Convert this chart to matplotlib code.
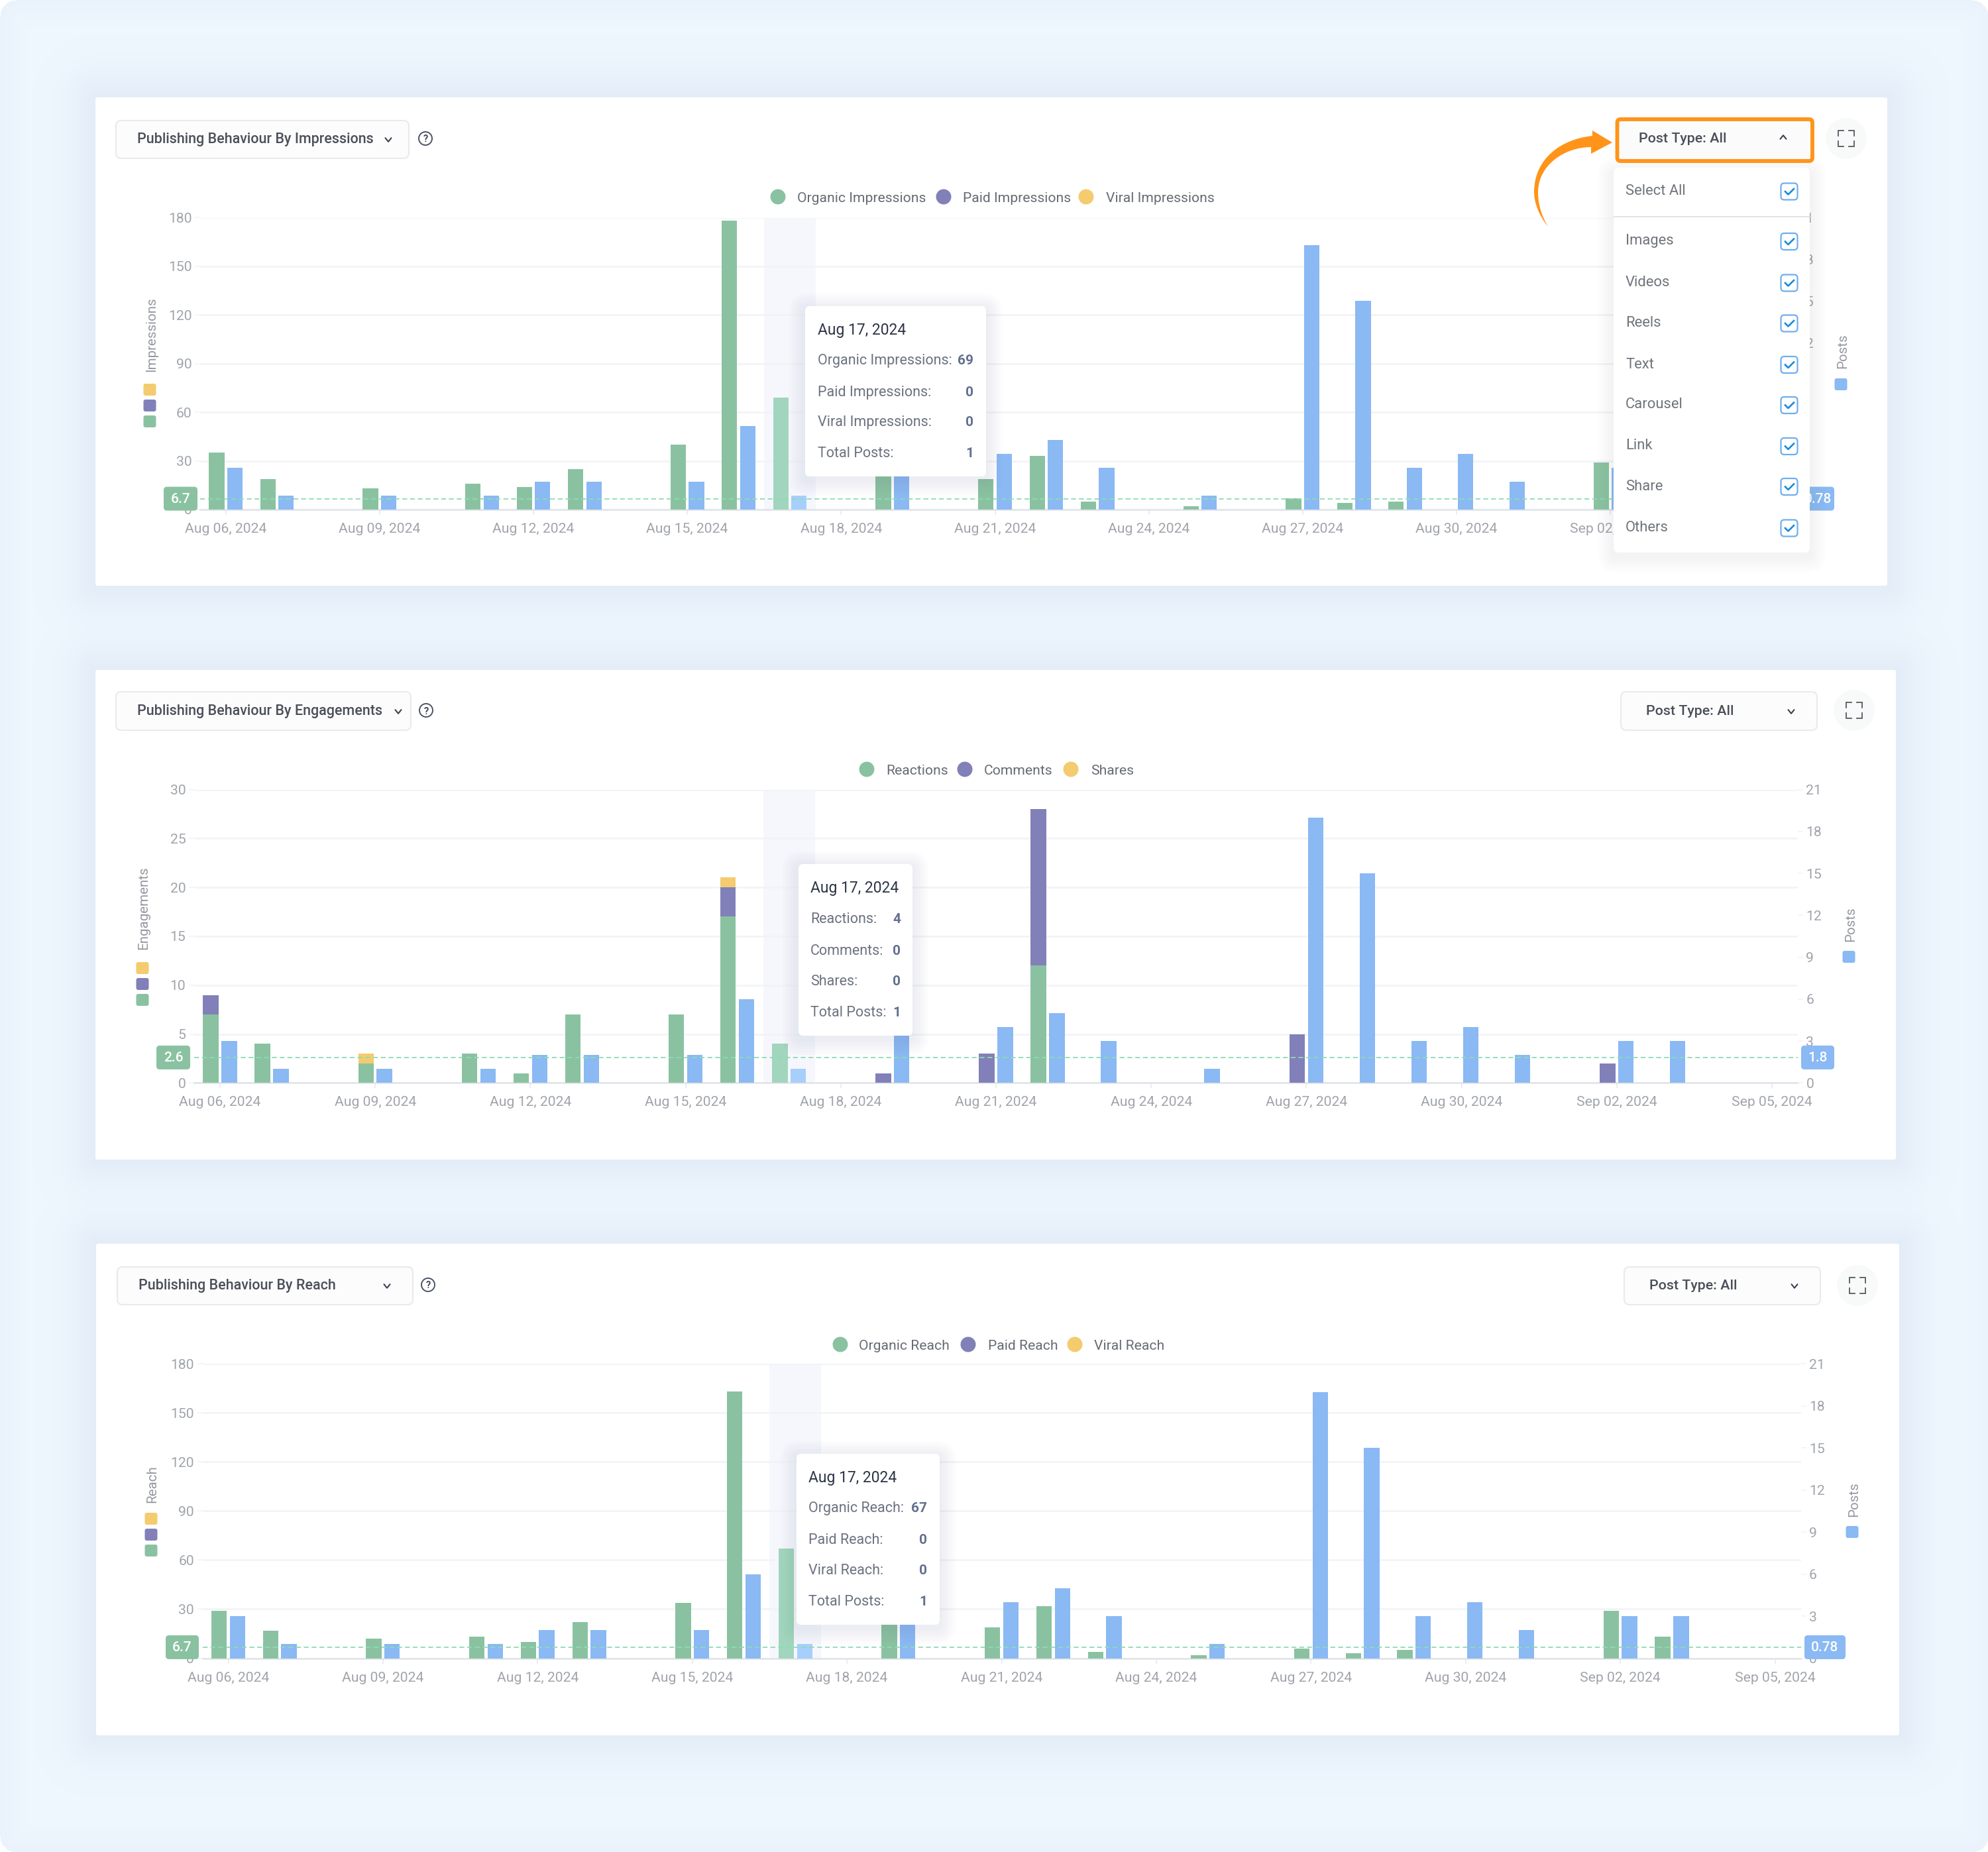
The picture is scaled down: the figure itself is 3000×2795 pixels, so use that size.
import matplotlib
matplotlib.use("Agg")
import matplotlib.pyplot as plt
from matplotlib.patches import FancyBboxPatch, PathPatch, Circle
from matplotlib.path import Path
import numpy as np

plt.rcParams['font.family'] = ['Roboto', 'DejaVu Sans']

W, H = 3000, 2795

# chart data
day_labels = ['Aug 06, 2024', 'Aug 09, 2024', 'Aug 12, 2024', 'Aug 15, 2024', 'Aug 18, 2024', 'Aug 21, 2024',
              'Aug 24, 2024', 'Aug 27, 2024', 'Aug 30, 2024', 'Sep 02, 2024', 'Sep 05, 2024']
posts = [3, 1, 0, 1, 0, 1, 2, 2, 0, 2, 6, 1, 0, 4, 0, 4, 5, 3, 0, 1, 0, 19, 15, 3, 4, 2, 0, 3, 3, 0, 0]
organic_impressions = [35, 19, 0, 13, 0, 16, 14, 25, 0, 40, 178, 69, 0, 22, 0, 19, 33, 5, 0, 2, 0, 7, 4, 5, 0, 0, 0, 29, 14, 0, 0]
reactions = [7, 4, 0, 2, 0, 3, 1, 7, 0, 7, 17, 4, 0, 0, 0, 0, 12, 0, 0, 0, 0, 0, 0, 0, 0, 0, 0, 0, 0, 0, 0]
comments = [2, 0, 0, 0, 0, 0, 0, 0, 0, 0, 3, 0, 0, 1, 0, 3, 16, 0, 0, 0, 0, 5, 0, 0, 0, 0, 0, 2, 0, 0, 0]
shares = [0, 0, 0, 1, 0, 0, 0, 0, 0, 0, 1, 0, 0, 0, 0, 0, 0, 0, 0, 0, 0, 0, 0, 0, 0, 0, 0, 0, 0, 0, 0]
organic_reach = [29, 17, 0, 12, 0, 13, 10, 22, 0, 34, 163, 67, 0, 22, 0, 19, 32, 4, 0, 2, 0, 6, 3, 5, 0, 0, 0, 29, 13, 0, 0]
zeros = [0] * 31
dropdown_items = ['Images', 'Videos', 'Reels', 'Text', 'Carousel', 'Link', 'Share', 'Others']

GREEN, PURPLE, YELLOW, BLUE = '#8AC2A1', '#8280B8', '#F4CB6E', '#8AB9F3'
LIGHT_GREEN, LIGHT_BLUE = '#A2D5BD', '#A6CFFB'
GRID = '#F1F3F6'
TICK_TXT = '#A0A4AB'
LABEL_TXT = '#666B74'
TXT_DY = 2.5  # Roboto sits a bit high with va=center

# everything measured in pixels of the reference for each card
panels = [
    dict(card=(144, 147, 2848, 884), plot=(302, 328.5, 2701, 769), title='Publishing Behaviour By Impressions',
         title_box=(175, 182, 617, 239), title_xy=(207, 208), chevron=(586, 211), help=(642, 209),
         post_box=(2441, 181, 2733, 241), post_xy=(2473, 207), post_chevron=(2691, 207), expand=(2786, 209),
         legend_y=297, legend=[(1174, 1203, 'Organic Impressions', GREEN), (1424, 1453, 'Paid Impressions', PURPLE), (1639, 1669, 'Viral Impressions', YELLOW)],
         ylabel='Impressions', ylabel_xy=(229, 505), swatch_x=226, swatch_y=[588, 612, 636],
         right_xy=(2781, 530), right_swatch=580, right_swatch_x=2778, ymax=180, yticks=[0, 30, 60, 90, 120, 150, 180],
         stack=[organic_impressions, zeros, zeros], avg_l='6.7', avg_val=6.7, avg_r='0.78', pill_l=(247, 298), pill_r=(2700, 2768),
         tip=(1215, 462, 1488, 719), tip_x=1234, tip_val_x=1469, tip_y=[496, 542, 590, 635, 682],
         tip_rows=[('Organic Impressions:', '69'), ('Paid Impressions:', '0'), ('Viral Impressions:', '0'), ('Total Posts:', '1')]),
    dict(card=(144, 1011, 2861, 1750), plot=(293, 1191.7, 2713, 1634.3), title='Publishing Behaviour By Engagements',
         title_box=(175, 1044, 620, 1102), title_xy=(207, 1071), chevron=(601, 1074), help=(643, 1072),
         post_box=(2446, 1044, 2742, 1102), post_xy=(2484, 1071), post_chevron=(2703, 1074), expand=(2798, 1072),
         legend_y=1161, legend=[(1308, 1337, 'Reactions', GREEN), (1456, 1485, 'Comments', PURPLE), (1616, 1646, 'Shares', YELLOW)],
         ylabel='Engagements', ylabel_xy=(217, 1370), swatch_x=215, swatch_y=[1461, 1485, 1509],
         right_xy=(2793, 1395), right_swatch=1444, right_swatch_x=2790, ymax=30, yticks=[0, 5, 10, 15, 20, 25, 30],
         stack=[reactions, comments, shares], avg_l='2.6', avg_val=2.6, avg_r='1.8', pill_l=(236, 287), pill_r=(2718, 2768),
         tip=(1205, 1304, 1377, 1563), tip_x=1223, tip_val_x=1359, tip_y=[1338, 1385, 1433, 1479, 1526],
         tip_rows=[('Reactions:', '4'), ('Comments:', '0'), ('Shares:', '0'), ('Total Posts:', '1')]),
    dict(card=(145, 1877, 2866, 2619), plot=(305.6, 2058.4, 2717.5, 2502.5), title='Publishing Behaviour By Reach',
         title_box=(177, 1912, 623, 1969), title_xy=(209, 1938), chevron=(584, 1941), help=(646, 1939),
         post_box=(2451, 1912, 2747, 1969), post_xy=(2489, 1938), post_chevron=(2708, 1941), expand=(2803, 1940),
         legend_y=2029, legend=[(1268, 1296, 'Organic Reach', GREEN), (1461, 1491, 'Paid Reach', PURPLE), (1622, 1651, 'Viral Reach', YELLOW)],
         ylabel='Reach', ylabel_xy=(230, 2240), swatch_x=228, swatch_y=[2292, 2316, 2340],
         right_xy=(2798, 2263), right_swatch=2312, right_swatch_x=2795, ymax=180, yticks=[0, 30, 60, 90, 120, 150, 180],
         stack=[organic_reach, zeros, zeros], avg_l='6.7', avg_val=6.7, avg_r='0.78', pill_l=(250, 300), pill_r=(2723, 2785),
         tip=(1202, 2194, 1418, 2452), tip_x=1220, tip_val_x=1399, tip_y=[2228, 2274, 2322, 2368, 2415],
         tip_rows=[('Organic Reach:', '67'), ('Paid Reach:', '0'), ('Viral Reach:', '0'), ('Total Posts:', '1')]),
]


def make_background():
    # page colour, soft card shadows and the rounded white outer corners
    yy, xx = np.mgrid[0:H, 0:W]
    shade = np.zeros((H, W))
    for cfg in panels:
        x0, y0, x1, y1 = cfg['card']
        dx = np.maximum(np.maximum(x0 - xx, xx - x1), 0)
        dy = np.maximum(np.maximum(y0 - yy, yy - y1), 0)
        d = np.hypot(dx, dy)
        shade += 0.065 * np.clip(1 - d / 95, 0, 1) ** 2
    edge = np.minimum(np.minimum(xx, W - xx), np.minimum(yy, H - yy))
    shade += 0.025 * np.clip(1 - edge / 40, 0, 1)
    base = np.array([0xEE, 0xF6, 0xFE]) / 255
    tint = np.array([0x4A, 0x6A, 0x96]) / 255
    img = base[None, None, :] * (1 - shade[..., None]) + tint[None, None, :] * shade[..., None]
    r = 24
    cx = np.clip(xx, r, W - r)
    cy = np.clip(yy, r, H - r)
    img[np.hypot(xx - cx, yy - cy) > r] = 1
    return img


def rbox(ax, x0, y0, x1, y1, r=6, fc='white', ec='none', lw=0, z=2):
    p = FancyBboxPatch((x0, y0), x1 - x0, y1 - y0, boxstyle=f'round,pad=0,rounding_size={r}',
                       fc=fc, ec=ec, lw=lw, zorder=z)
    ax.add_patch(p)
    return p


def shadow(ax, x0, y0, x1, y1, dy=6, spread=26, alpha=0.012, color='#4A6A96', z=1):
    for s in range(spread, 0, -4):
        p = rbox(ax, x0 - s, y0 - s + dy, x1 + s, y1 + s + dy, r=s + 4, fc=color, z=z)
        p.set_alpha(alpha)


def label(ax, x, y, s, **kw):
    ax.text(x, y + TXT_DY, s, va='center', **kw)


def chevron(ax, x, y, up=False, z=3):
    d = -2.8 if up else 2.8
    ax.plot([x - 4.5, x, x + 4.5], [y - d, y + d, y - d], color='#3A4250', lw=1.5, zorder=z, solid_capstyle='round')


def expand_icon(ax, x, y):
    ax.add_patch(Circle((x, y), 31, fc='#F8FAF9', ec='none', zorder=2))
    s, c = 12, 8
    for sx in (-1, 1):
        for sy in (-1, 1):
            ax.plot([x + sx * (s - c), x + sx * s, x + sx * s], [y + sy * s, y + sy * s, y + sy * (s - c)],
                    color='#555B64', lw=1.3, zorder=3, solid_joinstyle='miter')


def help_icon(ax, x, y):
    ax.add_patch(Circle((x, y), 10, fc='white', ec='#4A5568', lw=1.4, zorder=3))
    ax.text(x, y, '?', fontsize=10.5, ha='center', va='center_baseline', color='#3E4652', weight='bold', zorder=4)


def draw_chart(fig, cfg):
    l, t, r, b = cfg['plot']
    ax = fig.add_axes([l / W, 1 - b / H, (r - l) / W, (b - t) / H], zorder=2)
    ax.patch.set_alpha(0)
    x = np.arange(31)
    bw, off = 0.30, 0.178
    ax.set_xlim(-0.5, 30.5)
    ax.set_ylim(0, cfg['ymax'])
    ax.axvspan(10.5, 11.5, color='#F6F7FC', zorder=0, lw=0)
    bottom = np.zeros(31)
    for vals, col in zip(cfg['stack'], [GREEN, PURPLE, YELLOW]):
        vals = np.array(vals, dtype=float)
        cols = [col] * 31
        if col == GREEN:
            cols[11] = LIGHT_GREEN
        ax.bar(x - off, vals, bw, bottom=bottom, color=cols, zorder=3)
        bottom += vals
    ax.set_yticks(cfg['yticks'])
    ax.set_xticks(range(0, 31, 3))
    ax.set_xticklabels(day_labels)
    ax.grid(axis='y', color=GRID, lw=1.8, zorder=1)
    ax.set_axisbelow(True)
    ax.tick_params(axis='y', length=6, width=1.2, color=GRID, labelsize=15.2, labelcolor=TICK_TXT, pad=3)
    ax.tick_params(axis='x', length=6, width=1.2, color='#E3EBF5', labelsize=15.2, labelcolor=TICK_TXT, pad=8.5)
    for s in ['top', 'left', 'right']:
        ax.spines[s].set_visible(False)
    ax.spines['bottom'].set_color('#DFE3E8')
    ax.spines['bottom'].set_linewidth(1.8)

    ax2 = ax.twinx()
    ax2.set_zorder(3)
    ax2.patch.set_alpha(0)
    ax2.set_ylim(0, 21)
    cols = [BLUE] * 31
    cols[11] = LIGHT_BLUE
    ax2.bar(x + off, posts, bw, color=cols, zorder=3)
    ax2.set_yticks(range(0, 22, 3))
    ax2.tick_params(axis='y', length=6, width=1.2, color=GRID, labelsize=15.2, labelcolor=TICK_TXT, pad=3)
    for s in ax2.spines.values():
        s.set_visible(False)
    ax2.axhline(cfg['avg_val'] / cfg['ymax'] * 21, color='#8EDBB3', lw=1.3, ls=(0, (4, 2.5)), zorder=5)
    return ax


def draw_overlay(ui, cfg):
    # dropdowns, legend, axis captions, average pills, tooltip
    x0, y0, x1, y1 = cfg['title_box']
    rbox(ui, x0, y0, x1, y1, r=8, fc='#FCFCFC', ec='#E8EAEC', lw=1.5, z=3)
    label(ui, *cfg['title_xy'], cfg['title'], fontsize=15.5, weight='medium', color='#4A4F58', zorder=4)
    chevron(ui, *cfg['chevron'], z=4)
    help_icon(ui, *cfg['help'])
    expand_icon(ui, *cfg['expand'])

    for cx, tx, name, col in cfg['legend']:
        ui.add_patch(Circle((cx, cfg['legend_y']), 11.5, fc=col, ec='none', zorder=3))
        label(ui, tx, cfg['legend_y'], name, fontsize=15.25, color=LABEL_TXT, zorder=3)

    lx, ly = cfg['ylabel_xy']
    ui.text(lx, ly, cfg['ylabel'], rotation=90, fontsize=14.8, color='#94989F', ha='center', va='center', zorder=3)
    for sy, col in zip(cfg['swatch_y'], [YELLOW, PURPLE, GREEN]):
        rbox(ui, cfg['swatch_x'] - 9.5, sy - 9, cfg['swatch_x'] + 9.5, sy + 9, r=3, fc=col, z=3)
    rx, ry = cfg['right_xy']
    ui.text(rx, ry, 'Posts', rotation=90, fontsize=14.8, color='#94989F', ha='center', va='center', zorder=3)
    sx = cfg['right_swatch_x']
    rbox(ui, sx - 9.5, cfg['right_swatch'] - 9, sx + 9.5, cfg['right_swatch'] + 9, r=3, fc=BLUE, z=3)

    l, t, r, b = cfg['plot']
    ym = b - cfg['avg_val'] / cfg['ymax'] * (b - t)
    a, c = cfg['pill_l']
    rbox(ui, a, ym - 18, c, ym + 18, r=5, fc=GREEN, z=6)
    ui.text((a + c) / 2, ym + 1, cfg['avg_l'], fontsize=15, color='white', ha='center', va='center', weight='medium', zorder=7)
    a, c = cfg['pill_r']
    rbox(ui, a, ym - 18, c, ym + 18, r=5, fc=BLUE, z=6)
    ui.text((a + c) / 2 + (10 if cfg['pill_r'][0] == 2700 else 0), ym + 1, cfg['avg_r'], fontsize=15, color='white',
            ha='center', va='center', weight='medium', zorder=7)

    x0, y0, x1, y1 = cfg['tip']
    shadow(ui, x0, y0, x1, y1, dy=5, spread=24, alpha=0.010, color='#38465E', z=8)
    rbox(ui, x0, y0, x1, y1, r=7, fc='white', z=9)
    label(ui, cfg['tip_x'], cfg['tip_y'][0], 'Aug 17, 2024', fontsize=16.5, color='#2C3445', zorder=10)
    for ty, (name, val) in zip(cfg['tip_y'][1:], cfg['tip_rows']):
        label(ui, cfg['tip_x'], ty, name, fontsize=15.5, color='#6B7280', zorder=10)
        label(ui, cfg['tip_val_x'], ty, val, fontsize=15, color='#64708F', weight='bold', ha='right', zorder=10)


fig = plt.figure(figsize=(W / 100, H / 100), dpi=100)

under = fig.add_axes([0, 0, 1, 1], zorder=1)
under.imshow(make_background(), extent=(0, W, H, 0), aspect='auto', interpolation='nearest', zorder=0)
under.set_xlim(0, W)
under.set_ylim(H, 0)
under.axis('off')

over = fig.add_axes([0, 0, 1, 1], zorder=5)
over.set_xlim(0, W)
over.set_ylim(H, 0)
over.axis('off')
over.patch.set_alpha(0)

for cfg in panels:
    x0, y0, x1, y1 = cfg['card']
    rbox(under, x0, y0, x1, y1, r=3, fc='white', z=2)
    draw_chart(fig, cfg)
    draw_overlay(over, cfg)

# plain post type selectors on the lower two cards
for cfg in panels[1:]:
    x0, y0, x1, y1 = cfg['post_box']
    rbox(over, x0, y0, x1, y1, r=8, fc='#FCFCFC', ec='#E8EAEC', lw=1.5, z=3)
    label(over, *cfg['post_xy'], 'Post Type: All', fontsize=15.4, weight='medium', color='#4A4F58', zorder=4)
    chevron(over, *cfg['post_chevron'], z=4)

# first card has the open selector with its menu
top = panels[0]
shadow(over, 2435, 256, 2731, 834, dy=6, spread=24, alpha=0.008, color='#38465E', z=11)
rbox(over, 2435, 253, 2731, 834, r=8, fc='white', z=12)
rbox(over, 2440.5, 180, 2735, 243, r=5, fc='#FBFBFB', ec='#FF9419', lw=4.2, z=13)
label(over, *top['post_xy'], 'Post Type: All', fontsize=15.4, weight='medium', color='#4A4F58', zorder=14)
chevron(over, *top['post_chevron'], up=True, z=14)
over.plot([2435, 2731], [326.5, 326.5], color='#DADDE2', lw=1.1, zorder=13)
item_y = [361.5, 424, 485, 547.5, 608.5, 670.5, 731.5, 794]
for name, iy in zip(['Select All'] + dropdown_items, [286] + item_y):
    label(over, 2453, iy, name, fontsize=15.8, color='#6F747C', zorder=14)
    box_y = iy + 3
    rbox(over, 2687.5, box_y - 12.5, 2712.5, box_y + 12.5, r=5, fc='white', ec='#6FAEEF', lw=1.6, z=14)
    over.plot([2694, 2698.5, 2707], [box_y, box_y + 4.5, box_y - 4], color='#1B8CD8', lw=1.9, zorder=15)

arrow = Path([(2336, 342), (2322, 325), (2315, 305), (2315, 290), (2315, 240), (2355, 210), (2403, 205),
              (2403, 197), (2433, 215), (2401, 232), (2401, 222),
              (2360, 222), (2321, 250), (2321, 290), (2321, 308), (2326, 325), (2336, 342), (2336, 342)],
             [Path.MOVETO, Path.CURVE4, Path.CURVE4, Path.CURVE4, Path.CURVE4, Path.CURVE4, Path.CURVE4,
              Path.LINETO, Path.LINETO, Path.LINETO, Path.LINETO,
              Path.CURVE4, Path.CURVE4, Path.CURVE4, Path.CURVE4, Path.CURVE4, Path.CURVE4, Path.CLOSEPOLY])
over.add_patch(PathPatch(arrow, fc='#FF9419', ec='none', zorder=16))

fig.savefig('out.png', dpi=100)
